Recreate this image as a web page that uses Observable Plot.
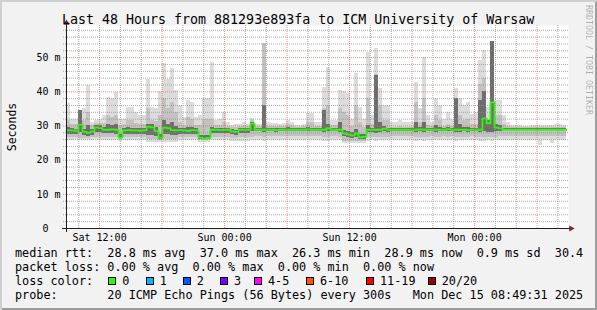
<!DOCTYPE html>
<html><head><meta charset="utf-8">
<script src="https://cdn.jsdelivr.net/npm/d3@7"></script>
<script src="https://cdn.jsdelivr.net/npm/@observablehq/plot@0.6"></script>
<style>
html,body{margin:0;padding:0;background:#f2f2f2;}
#wrap{position:relative;width:597px;height:310px;background:#f2f2f2;box-shadow:inset 2px 2px 0 #cfcfcf, inset -2px -2px 0 #9e9e9e;overflow:hidden;font-family:"DejaVu Sans Mono",monospace;color:#000;}
#chart{position:absolute;left:0;top:0;}
.t{position:absolute;white-space:pre;line-height:1;margin:0;}
#title{left:62px;top:12.75px;font-size:13.3px;}
.leg{left:15px;font-size:11.8px;}
.box{position:absolute;width:8px;height:8px;box-sizing:border-box;border:1px solid #000;}
#wm{position:absolute;left:593px;top:5px;font-size:8.3px;line-height:1;color:rgba(0,0,0,0.3);transform-origin:0 0;transform:rotate(90deg);white-space:pre;}
</style></head>
<body>
<div id="wrap">
  <div id="chart"></div>
  <div id="title" class="t"></div>
  <div id="wm"></div>
  <div id="l1" class="t leg" style="top:248.3px"></div>
  <div id="l2" class="t leg" style="top:262.3px"></div>
  <div id="l3" class="t leg" style="top:276px"></div>
  <div id="l4" class="t leg" style="top:290px"></div>
</div>
<script>
// ---- Data, 125 bins over 48 hours ----
const med = [
28.7,28.7,28.6,30.3,28.3,28.0,28.4,29.6,29.4,28.9,
28.9,29.0,28.9,26.6,28.7,28.8,28.7,28.7,28.6,28.7,
29.8,29.6,28.5,26.6,29.5,29.4,28.8,28.7,28.8,28.7,
28.6,28.8,28.7,26.6,26.3,26.5,28.9,28.9,28.8,28.9,
28.9,28.4,28.3,28.9,28.9,28.9,30.7,28.9,28.9,28.9,
28.9,28.9,28.8,28.9,28.9,28.9,28.9,28.9,28.9,28.9,
29.0,28.9,28.9,28.9,28.9,29.4,28.9,28.9,28.9,27.8,
27.5,27.2,27.8,26.7,26.8,28.9,28.9,28.9,28.9,29.2,
28.9,28.9,28.9,28.9,28.9,28.9,28.9,28.9,29.0,28.9,
28.9,28.9,28.9,28.9,28.9,29.1,28.9,28.9,28.9,28.9,
28.8,28.9,28.9,28.9,32.2,30.8,36.9,29.5,29.3,28.9,
28.9,28.9,28.9,28.9,28.9,28.9,28.9,28.9,28.9,28.9,
28.9,28.9,28.9,28.9,28.9];
const hi = [
36.6,32,32,34.5,35,41.8,31,31.5,32,33,
38.4,38,39.9,32,32,35.5,35.5,34,33,33,
43.7,35.5,35,40,48.2,43.7,46.9,40.4,36,32.5,
37.4,37,32.5,33,38,38,48.5,31.6,32,34,
31,30,30.5,30.5,31.1,30.5,32.2,30.5,30.5,54,
31,30.7,30.7,30.5,30.7,31.6,31,30,30,30.5,
33.6,33.6,31,31,41.3,47,31.6,31.6,40.4,40,
39.4,32,45.3,35.4,32,51.6,33,52.6,41,36,
36,31,31,31.5,31,31,31,42.8,35,50,
33,31,38,36,32,34,32,41,38,36,
37,33.5,34,49.1,52,35.4,54.8,37.4,37.4,33,
31,30.1,30.1,30,29.8,29.8,30,30.2,30,30,
30.2,30,30.5,30.5,30];
const lo = [
25.8,25.8,26.0,25.8,25.8,25.7,25.8,26.0,25.8,25.8,
25.8,25.8,25.7,25.6,25.8,25.8,25.8,25.7,25.8,25.8,
25.2,25.2,25.3,25.1,25.2,25.2,25.3,25.2,25.8,25.8,
25.8,25.7,25.8,25.2,25.2,25.2,25.8,25.8,25.8,25.8,
25.8,25.5,25.5,25.5,25.6,25.6,25.8,25.8,25.8,25.6,
25.8,25.8,25.8,25.8,25.8,25.8,25.8,25.8,25.8,25.8,
25.8,25.8,25.8,25.8,25.6,25.6,25.8,25.8,25.7,25.0,
25.0,25.0,25.0,25.0,25.0,25.6,25.7,25.6,25.7,25.7,
25.7,25.7,25.7,25.7,25.7,25.7,25.7,25.6,25.7,25.6,
25.7,25.7,25.7,25.7,25.7,25.7,25.7,25.6,25.7,25.7,
25.7,25.7,25.7,25.6,25.6,25.7,25.6,25.7,25.7,25.7,
25.7,25.7,25.7,25.7,25.7,25.7,25.7,25.7,24.2,25.7,
25.7,24.8,25.7,25.7,25.7];
const midLo = [
26.5,26.6,26.6,26.4,26.4,26.3,26.5,26.6,26.5,26.6,
26.6,26.6,26.5,26.0,26.5,26.6,26.5,26.5,26.5,26.6,
26.0,26.0,26.0,25.8,26.0,26.1,26.1,26.0,26.5,26.5,
26.5,26.5,26.5,25.8,25.8,25.8,26.6,26.6,26.6,26.6,
26.6,26.3,26.3,26.5,26.5,26.5,26.6,26.8,26.8,26.6,
26.8,26.8,26.8,26.8,26.8,26.8,26.8,26.8,26.8,26.8,
26.8,26.8,26.8,26.8,26.6,26.6,26.8,26.8,26.6,25.6,
25.6,25.6,25.6,25.6,25.6,26.6,26.7,26.6,26.7,26.7,
26.7,26.8,26.8,26.8,26.8,26.8,26.8,26.6,26.7,26.6,
26.7,26.8,26.7,26.7,26.8,26.7,26.8,26.6,26.7,26.7,
26.7,26.8,26.7,26.6,26.6,26.7,26.6,26.7,26.8,27.0,
27.0,27.0,27.0,27.0,27.0,27.0,27.0,27.0,26.8,27.0,
27.0,26.9,27.0,27.0,27.0];
const mid = [
31.5,30.4,30.4,32.5,31.5,34.0,30.2,30.8,30.6,30.8,
33.0,32.5,33.0,30.0,30.3,31.5,31.5,30.8,30.5,30.5,
35.0,31.5,31.2,33.0,38.0,35.0,37.0,34.0,31.0,30.2,
32.5,32.0,30.2,30.0,32.0,32.0,32.0,30.0,30.0,31.0,
29.8,29.6,29.6,29.8,30.0,29.8,31.5,29.8,29.8,54.0,
29.8,29.8,29.8,29.8,29.8,30.3,30.0,29.6,29.6,29.8,
31.0,31.0,29.8,29.8,35.0,36.0,30.2,30.2,35.0,34.0,
33.0,29.8,36.0,31.0,29.6,38.0,30.4,45.0,36.0,31.5,
31.5,29.7,29.7,29.8,29.7,29.7,29.7,37.0,31.0,38.0,
30.2,29.8,33.0,31.5,29.8,30.5,29.8,38.0,33.0,31.5,
32.0,30.5,30.5,42.0,44.0,32.0,52.0,33.0,33.0,30.5,
29.8,29.5,29.5,29.5,29.5,29.5,29.5,29.6,29.5,29.5,
29.6,29.5,29.7,29.7,29.5];
const dkLo = [
27.5,27.5,27.4,28.0,27.2,27.0,27.3,28.0,28.0,27.7,
27.7,27.8,27.6,26.2,27.5,27.6,27.5,27.5,27.4,27.5,
27.2,27.3,27.0,26.0,27.5,27.5,27.2,27.3,27.6,27.5,
27.4,27.6,27.5,26.0,25.9,26.0,27.7,27.8,27.7,27.8,
27.8,27.4,27.3,27.8,27.8,27.8,28.3,28.3,28.3,28.2,
28.3,28.3,28.2,28.3,28.3,28.3,28.3,28.3,28.3,28.3,
28.4,28.3,28.3,28.3,28.0,28.3,28.3,28.3,28.2,26.8,
26.6,26.2,26.6,26.0,26.0,28.0,28.2,27.9,28.1,28.4,
28.2,28.4,28.4,28.4,28.4,28.4,28.4,28.0,28.4,28.2,
28.4,28.4,28.2,28.3,28.4,28.5,28.4,28.0,28.2,28.3,
28.2,28.4,28.3,28.0,28.5,28.0,28.0,28.5,28.5,28.6,
28.6,28.6,28.6,28.6,28.6,28.6,28.6,28.6,28.6,28.6,
28.6,28.6,28.6,28.6,28.6];
const dkHi = [
29.6,29.2,29.1,34.5,29.0,30.0,29.0,30.2,30.0,29.6,
30.5,30.0,30.5,27.4,29.3,29.5,29.3,29.3,29.2,29.3,
30.5,30.3,29.5,27.5,31.5,30.5,31.0,29.8,29.4,29.3,
29.6,29.6,29.3,27.3,27.2,27.3,29.5,29.4,29.4,29.4,
29.4,28.9,28.8,29.4,29.4,29.4,31.0,29.3,29.3,36.0,
29.3,29.3,29.2,29.3,29.3,29.5,29.3,29.3,29.3,29.3,
29.6,29.4,29.3,29.3,34.5,30.5,29.3,29.3,31.0,28.6,
28.4,28.0,29.0,27.6,27.6,30.0,29.3,44.7,31.0,29.8,
29.4,29.3,29.3,29.4,29.3,29.3,29.3,31.0,29.5,31.0,
29.3,29.3,30.0,29.5,29.3,29.6,29.3,38.0,30.5,29.6,
29.5,29.3,29.3,37.4,40.0,31.5,54.8,30.5,30.0,29.2,
29.2,29.2,29.2,29.2,29.2,29.2,29.2,29.2,29.2,29.2,
29.2,29.2,29.2,29.2,29.2];

const yTicks = [0, 10, 20, 30, 40, 50];
const titleText = "Last 48 Hours from 881293e893fa to ICM University of Warsaw";
const watermark = "RRDTOOL / TOBI OETIKER";
const rttStats = ["28.8", "37.0", "26.3", "28.9", "0.9", "30.4"];
const lossStats = ["0.00", "0.00", "0.00", "0.00"];
const lossLabels = ["0", "1", "2", "3", "4-5", "6-10", "11-19", "20/20"];
const lossColors = ["#26ff00", "#00b8ff", "#0059ff", "#7e00ff", "#ff00ff", "#ff5500", "#ff0000", "#a00000"];
const probeText = "20 ICMP Echo Pings (56 Bytes) every 300s";
const stampText = "Mon Dec 15 08:49:31 2025";

// ---- Build ----
const start = new Date(2025, 11, 13, 8, 49, 31);
const end = new Date(2025, 11, 15, 8, 49, 31);
const n = med.length;
const dt = (end - start) / n;
const bins = med.map((m, i) => ({
  t1: new Date(+start + i * dt), t2: new Date(+start + (i + 1) * dt),
  med: m, lo: lo[i], hi: hi[i], midLo: midLo[i], mid: mid[i], dkLo: dkLo[i], dkHi: dkHi[i]
}));
const medLine = bins.map(d => ({t: d.t1, v: d.med})).concat([{t: end, v: med[n - 1]}]);
const minorY = d3.range(2, 59, 2).filter(v => v % 10 !== 0);
const majorY = [10, 20, 30, 40, 50];
const minorX = d3.timeHour.every(2).range(start, end).filter(d => d.getHours() % 6 !== 0);
const majorX = d3.timeHour.every(6).range(start, end);
const labelX = d3.timeHour.every(12).range(start, end);
const mono = "DejaVu Sans Mono";
const gridC = "rgba(143,143,143,0.75)";
const mgridC = "rgba(222,79,79,0.6)";

const plot = Plot.plot({
  width: 597, height: 240,
  marginLeft: 66, marginRight: 31, marginTop: 25, marginBottom: 12,
  style: {background: "transparent", overflow: "visible", fontFamily: mono, color: "black"},
  x: {type: "time", domain: [start, end]},
  y: {domain: [0, 59.4]},
  marks: [
    Plot.frame({fill: "white", stroke: "none", insetRight: -2}),
    Plot.rect(bins, {x1: "t1", x2: "t2", y1: "lo", y2: "hi", fill: "#dcdcdc", shapeRendering: "crispEdges"}),
    Plot.rect(bins, {x1: "t1", x2: "t2", y1: "midLo", y2: "mid", fill: "#c2c2c2", shapeRendering: "crispEdges"}),
    Plot.rect(bins, {x1: "t1", x2: "t2", y1: "dkLo", y2: "dkHi", fill: "#6e6e6e", shapeRendering: "crispEdges"}),
    Plot.line(medLine, {x: "t", y: "v", curve: "step-after", stroke: "#26ff00", strokeWidth: 1.8}),
    Plot.ruleY(minorY, {stroke: gridC, strokeDasharray: "1,1", insetLeft: -3, insetRight: -2}),
    Plot.ruleX(minorX, {stroke: gridC, strokeDasharray: "1,1"}),
    Plot.ruleY(majorY, {stroke: mgridC, strokeDasharray: "1,1", insetLeft: -3, insetRight: -2}),
    Plot.ruleX(majorX, {stroke: mgridC, strokeDasharray: "1,1"}),
    Plot.ruleY([0], {stroke: "#1f1f1f", insetLeft: -4, insetRight: -4}),
    Plot.ruleX([start], {stroke: "#1f1f1f", insetTop: -2, insetBottom: -4}),
    Plot.dot([0], {x: () => start, y: () => 59.4, dy: -2.5, symbol: "triangle", r: 2.3, fill: "#801f1f", stroke: "none"}),
    Plot.dot([0], {x: () => end, y: () => 0, dx: 4.5, rotate: 90, symbol: "triangle", r: 2.3, fill: "#801f1f", stroke: "none"}),
    Plot.axisY({ticks: yTicks, tickSize: 0, tickPadding: 6, label: null, fontSize: 10, fontFamily: mono,
      tickFormat: d => d === 0 ? "0\u00a0\u00a0" : d + " m"}),
    Plot.axisX({ticks: labelX, tickSize: 0, tickPadding: 5, label: null, fontSize: 10, fontFamily: mono,
      tickFormat: d3.timeFormat("%a %H:%M")}),
    Plot.text(["Seconds"], {frameAnchor: "left", dx: -54.5, rotate: -90, textAnchor: "middle", fontSize: 11.5, fontFamily: mono, text: d => d, fill: "black"})
  ]
});
document.getElementById("chart").appendChild(plot);

document.getElementById("title").textContent = titleText;
document.getElementById("wm").textContent = watermark;
document.getElementById("l1").textContent =
  `median rtt:  ${rttStats[0]} ms avg  ${rttStats[1]} ms max  ${rttStats[2]} ms min  ${rttStats[3]} ms now  ${rttStats[4]} ms sd  ${rttStats[5]}`;
document.getElementById("l2").textContent =
  `packet loss: ${lossStats[0]} % avg  ${lossStats[1]} % max  ${lossStats[2]} % min  ${lossStats[3]} % now`;
document.getElementById("l3").textContent = "loss color:";
document.getElementById("l4").textContent = `probe:       ${probeText}   ${stampText}`;

const boxLeft = [108.3, 145.7, 182.7, 220, 254, 306, 366, 427.7];
const wrap = document.getElementById("wrap");
lossLabels.forEach((lab, i) => {
  const b = document.createElement("div");
  b.className = "box";
  b.style.left = boxLeft[i] + "px";
  b.style.top = "277.4px";
  b.style.background = lossColors[i];
  wrap.appendChild(b);
  const t = document.createElement("div");
  t.className = "t leg";
  t.style.left = (boxLeft[i] + 14) + "px";
  t.style.top = "276px";
  t.textContent = lab;
  wrap.appendChild(t);
});
</script>
</body></html>
